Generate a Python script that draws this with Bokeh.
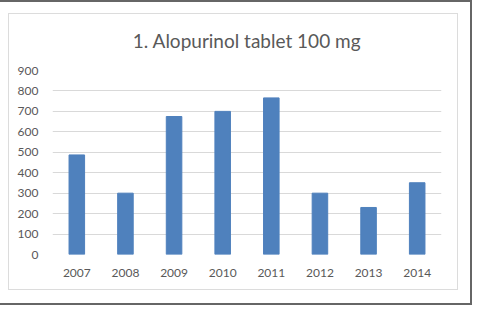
from bokeh.plotting import figure
from bokeh.models import ColumnDataSource, Title, FactorRange, Range1d, FixedTicker, InlineStyleSheet
from bokeh.embed import file_html
from bokeh.resources import INLINE

# data
years = ["2007", "2008", "2009", "2010", "2011", "2012", "2013", "2014"]
values = [487, 300, 675, 700, 766, 300, 230, 351]
y_ticks = [0, 100, 200, 300, 400, 500, 600, 700, 800, 900]
title_text = "1. Alopurinol tablet 100 mg"

FONT = "Lato"
TXT = "#595959"

src = ColumnDataSource(dict(year=years, value=values))

p = figure(width=477, height=309, output_backend="svg", toolbar_location=None,
           x_range=FactorRange(*years, range_padding=0), y_range=Range1d(0, 900),
           min_border_left=52, min_border_right=36, min_border_top=70, min_border_bottom=55,
           background_fill_color="white", border_fill_color="white", outline_line_color=None)

p.vbar(x="year", top="value", width=0.32, source=src, fill_color="#4F81BD", line_color="#4F81BD")

# title
p.title = Title(text=title_text, align="center", text_font=FONT, text_font_size="19px",
                text_color=TXT, text_font_style="normal", standoff=37)

# axes
p.yaxis.ticker = FixedTicker(ticks=y_ticks)
p.yaxis.axis_line_color = None
p.yaxis.major_tick_line_color = None
p.yaxis.minor_tick_line_color = None
p.yaxis.major_label_standoff = 8
p.yaxis.major_label_text_font = FONT
p.yaxis.major_label_text_font_size = "12px"
p.yaxis.major_label_text_color = TXT

p.xaxis.axis_line_color = None
p.xaxis.major_tick_line_color = None
p.xaxis.minor_tick_line_color = None
p.xaxis.major_label_standoff = 8
p.xaxis.major_label_text_font = FONT
p.xaxis.major_label_text_font_size = "12px"
p.xaxis.major_label_text_color = TXT

p.xgrid.grid_line_color = None
p.ygrid.grid_line_color = "#d9d9d9"
p.ygrid.grid_line_width = 1

# chart-area border (light) and outer window border (dark), drawn as decoration
p.stylesheets = [InlineStyleSheet(css="""
:host { position: relative; }
:host::before {
  content: ""; position: absolute; z-index: 10; pointer-events: none;
  left: 8px; top: 13px; width: 448px; height: 275px;
  border: 1px solid #dcdcdc;
}
:host::after {
  content: ""; position: absolute; z-index: 11; pointer-events: none;
  left: -5px; top: 0px; width: 473px; height: 301px;
  border: 2px solid #666666;
}
""")]

open("out.html", "w").write(file_html(p, INLINE))
